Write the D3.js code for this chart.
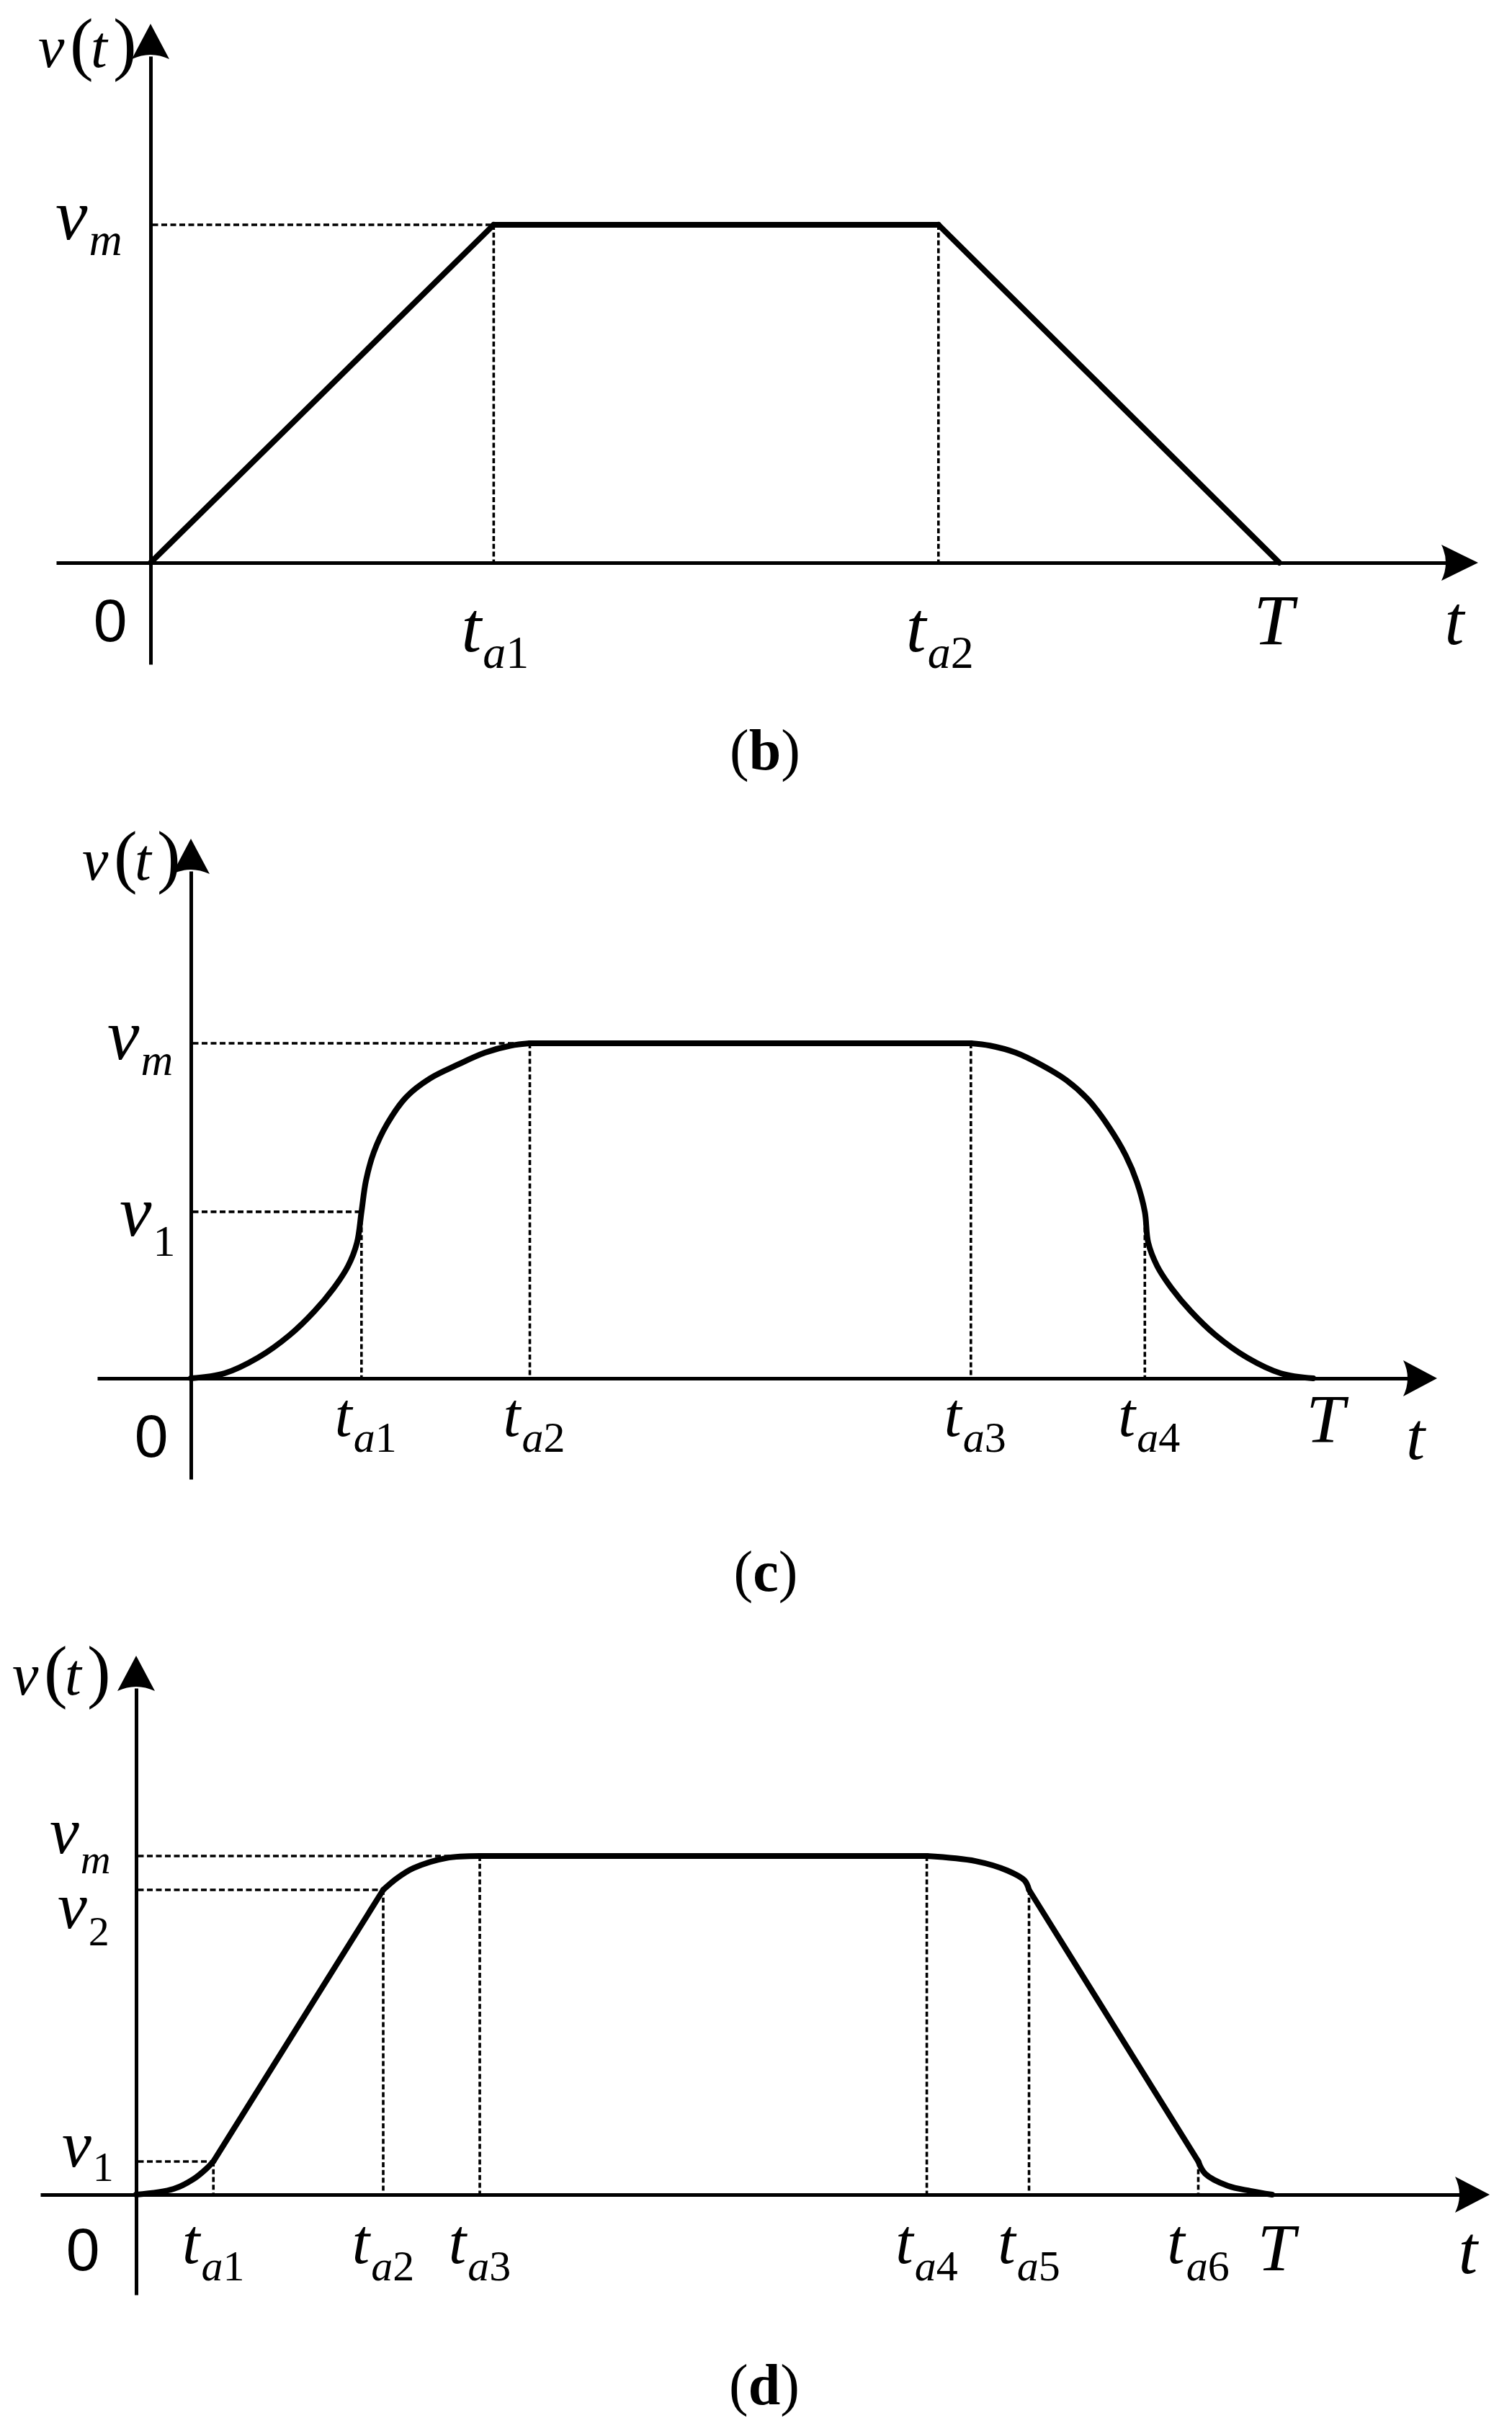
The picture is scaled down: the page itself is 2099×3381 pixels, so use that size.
<!DOCTYPE html>
<html>
<head>
<meta charset="utf-8">
<script src="https://cdn.jsdelivr.net/npm/d3@7"></script>
<style>
  html, body { margin: 0; padding: 0; background: #fff; }
  svg { display: block; }
</style>
</head>
<body>
<div id="chart"></div>
<script>
// ---------------- DATA (time as fraction of T, velocity as fraction of v_m) ----------------
const panelIds = ['b', 'c', 'd'];

// Panel (b): trapezoidal profile
const bTicks = ['a1', 'a2'];
const bTickT = [0.304, 0.698];
const bTickV = [1, 1];
const bLevels = ['m'];
const bLevelV = [1];
const bLevelT = [0.304];
const bCurveT = [0, 0.304, 0.698, 1];
const bCurveV = [0, 1, 1, 0];
const bSegments = [[0, 1, 'linear'], [1, 2, 'linear'], [2, 3, 'linear']];

// Panel (c): S-curve profile
const cTicks = ['a1', 'a2', 'a3', 'a4'];
const cTickT = [0.152, 0.302, 0.695, 0.850];
const cTickV = [0.497, 1, 1, 0.497];
const cLevels = ['m', '1'];
const cLevelV = [1, 0.497];
const cLevelT = [0.302, 0.152];
const cCurveT = [0, 0.030, 0.060, 0.088, 0.110, 0.127, 0.140, 0.148, 0.152,
                 0.156, 0.163, 0.175, 0.192, 0.213, 0.237, 0.262, 0.285, 0.302,
                 0.695, 0.712, 0.735, 0.758, 0.780, 0.800, 0.818, 0.833, 0.843, 0.850,
                 0.853, 0.861, 0.874, 0.891, 0.913, 0.941, 0.971, 1];
const cCurveV = [0, 0.015, 0.062, 0.129, 0.200, 0.268, 0.335, 0.405, 0.497,
                 0.590, 0.675, 0.760, 0.840, 0.895, 0.935, 0.972, 0.993, 1,
                 1, 0.993, 0.972, 0.935, 0.890, 0.830, 0.750, 0.665, 0.585, 0.497,
                 0.405, 0.335, 0.268, 0.200, 0.129, 0.062, 0.015, 0];
const cSegments = [[0, 17, 'smooth'], [17, 18, 'linear'], [18, 35, 'smooth']];

// Panel (d): seven-segment profile
const dTicks = ['a1', 'a2', 'a3', 'a4', 'a5', 'a6'];
const dTickT = [0.068, 0.2175, 0.3025, 0.696, 0.786, 0.935];
const dTickV = [0.098, 0.9, 1, 1, 0.9, 0.098];
const dLevels = ['m', '2', '1'];
const dLevelV = [1, 0.9, 0.098];
const dLevelT = [0.3025, 0.2175, 0.068];
const dCurveT = [0, 0.033, 0.051, 0.062, 0.068, 0.2175, 0.2295, 0.244, 0.273, 0.3025,
                 0.696, 0.739, 0.767, 0.782, 0.786, 0.935, 0.941, 0.961, 0.981, 1];
const dCurveV = [0, 0.017, 0.047, 0.077, 0.098, 0.9, 0.934, 0.964, 0.994, 1,
                 1, 0.985, 0.957, 0.928, 0.9, 0.098, 0.062, 0.026, 0.011, 0];
const dSegments = [[0, 4, 'smooth'], [4, 5, 'linear'], [5, 9, 'smooth'], [9, 10, 'linear'],
                   [10, 14, 'smooth'], [14, 15, 'linear'], [15, 19, 'smooth']];

const axisNames = { y: ['v', '(', 't', ')'], x: 't', end: 'T', origin: '0' };

// ---------------- LAYOUT ----------------
const W = 2099, H = 3381;
const SERIF = '"Liberation Serif", "Times New Roman", serif';
const SANS = '"Liberation Sans", Arial, sans-serif';

const layout = {
  b: { x0: 209, xT: 1776, y0: 781, yM: 312, xFrom: 78, xTip: 2052, yFrom: 922, yTip: 33, arrowX: 51,
       taSize: 100, subSize: 64, taBase: 904, subDy: 23, taDx: 2,
       T: [1768, 894, 100], t: [2019, 894, 97], zero: [153, 890],
       lvl: { m: [77, 332, 22] }, lvlSize: 100, lvlSub: 64,
       vt: [53, 93], cap: [1062, 1068, 'b'] },
  c: { x0: 265, xT: 1823, y0: 1913, yM: 1448, xFrom: 135, xTip: 1995, yFrom: 2053, yTip: 1164, arrowX: 47,
       taSize: 86, subSize: 60, taBase: 1993, subDy: 22, taDx: 6,
       T: [1840, 2002, 96], t: [1965, 2025, 94], zero: [210, 2022],
       lvl: { m: [149, 1470, 22], '1': [166, 1715, 28] }, lvlSize: 100, lvlSub: 62,
       vt: [114, 1221], cap: [1063, 2208, 'c'] },
  d: { x0: 189, xT: 1766, y0: 3046, yM: 2576, xFrom: 56, xTip: 2068, yFrom: 3185, yTip: 2298, arrowX: 48,
       taSize: 88, subSize: 60, taBase: 3141, subDy: 24, taDx: 0,
       T: [1772, 3151, 94], t: [2038, 3155, 95], zero: [115, 3151],
       lvl: { m: [69, 2572, 28], '2': [80, 2676, 24], '1': [86, 3007, 20] }, lvlSize: 92, lvlSub: 58,
       vt: [17, 2352], cap: [1061, 3337, 'd'] }
};

const data = {
  b: { ticks: bTicks, tickT: bTickT, tickV: bTickV, levels: bLevels, levelV: bLevelV, levelT: bLevelT,
       curveT: bCurveT, curveV: bCurveV, segs: bSegments },
  c: { ticks: cTicks, tickT: cTickT, tickV: cTickV, levels: cLevels, levelV: cLevelV, levelT: cLevelT,
       curveT: cCurveT, curveV: cCurveV, segs: cSegments },
  d: { ticks: dTicks, tickT: dTickT, tickV: dTickV, levels: dLevels, levelV: dLevelV, levelT: dLevelT,
       curveT: dCurveT, curveV: dCurveV, segs: dSegments }
};

const svg = d3.select('#chart').append('svg')
  .attr('width', W).attr('height', H).attr('viewBox', `0 0 ${W} ${H}`);
svg.append('rect').attr('width', W).attr('height', H).attr('fill', '#fff');

const AXIS_W = 5, CURVE_W = 8, DASH_W = 3.6, DASH = '8,4.5';

function subText(g, x, y, main, sub, size, subSize, subDy, anchor) {
  const t = g.append('text').attr('x', x).attr('y', y)
    .attr('font-family', SERIF).attr('font-size', size).attr('text-anchor', anchor)
    .attr('fill', '#000');
  t.append('tspan').attr('font-style', 'italic').text(main);
  let first = true;
  for (const ch of sub) {
    const sp = t.append('tspan').attr('font-size', subSize)
      .attr('font-style', /[0-9]/.test(ch) ? 'normal' : 'italic').text(ch);
    if (first) { sp.attr('dy', subDy).attr('dx', 2); first = false; }
  }
  return t;
}

panelIds.forEach(id => {
  const L = layout[id], D = data[id];
  const g = svg.append('g').attr('class', 'panel-' + id);
  const x = d3.scaleLinear().domain([0, 1]).range([L.x0, L.xT]);
  const y = d3.scaleLinear().domain([0, 1]).range([L.y0, L.yM]);

  // axes (lines through d3 axes, no ticks)
  const xa = d3.scaleLinear().domain([x.invert(L.xFrom), x.invert(L.xTip - L.arrowX + 8)])
    .range([L.xFrom, L.xTip - L.arrowX + 8]);
  const ya = d3.scaleLinear().domain([y.invert(L.yFrom), y.invert(L.yTip + 45)])
    .range([L.yFrom, L.yTip + 45]);
  const gx = g.append('g').attr('transform', `translate(0,${y(0)})`)
    .call(d3.axisBottom(xa).tickValues([]).tickSizeOuter(0));
  const gy = g.append('g').attr('transform', `translate(${x(0)},0)`)
    .call(d3.axisLeft(ya).tickValues([]).tickSizeOuter(0));
  [gx, gy].forEach(a => a.select('.domain').attr('stroke', '#000').attr('stroke-width', AXIS_W));

  // arrowheads
  const ax = L.xTip, ay = y(0), len = L.arrowX, hw = 25;
  g.append('path')
    .attr('d', `M${ax},${ay} L${ax - len},${ay - hw} Q${ax - len + 12},${ay} ${ax - len},${ay + hw} Z`)
    .attr('fill', '#000');
  const bx = x(0), by = L.yTip, blen = 49;
  g.append('path')
    .attr('d', `M${bx},${by} L${bx + 26},${by + blen} Q${bx},${by + blen - 12} ${bx - 26},${by + blen} Z`)
    .attr('fill', '#000');

  // dashed guide lines
  D.levels.forEach((lv, i) => {
    g.append('line')
      .attr('x1', x(0) + AXIS_W / 2).attr('x2', x(D.levelT[i]))
      .attr('y1', y(D.levelV[i])).attr('y2', y(D.levelV[i]))
      .attr('stroke', '#000').attr('stroke-width', DASH_W).attr('stroke-dasharray', DASH);
  });
  D.ticks.forEach((tk, i) => {
    g.append('line')
      .attr('x1', x(D.tickT[i])).attr('x2', x(D.tickT[i]))
      .attr('y1', y(D.tickV[i])).attr('y2', y(0))
      .attr('stroke', '#000').attr('stroke-width', DASH_W).attr('stroke-dasharray', '7,3.8');
  });

  // curve
  const pts = D.curveT.map((t, i) => [t, D.curveV[i]]);
  D.segs.forEach(([s, e, kind]) => {
    const line = d3.line().x(d => x(d[0])).y(d => y(d[1]))
      .curve(kind === 'smooth' ? d3.curveCatmullRom.alpha(0.5) : d3.curveLinear);
    g.append('path').attr('d', line(pts.slice(s, e + 1)))
      .attr('fill', 'none').attr('stroke', '#000').attr('stroke-width', CURVE_W)
      .attr('stroke-linecap', 'round').attr('stroke-linejoin', 'round');
  });

  // tick labels t_ai
  D.ticks.forEach((tk, i) => {
    subText(g, x(D.tickT[i]) + L.taDx, L.taBase, 't', tk, L.taSize, L.subSize, L.subDy, 'middle');
  });

  // level labels v_m, v_1, v_2
  D.levels.forEach(lv => {
    const p = L.lvl[lv];
    subText(g, p[0], p[1], 'v', lv, L.lvlSize, L.lvlSub, p[2], 'start');
  });

  // T, t, 0
  g.append('text').attr('x', L.T[0]).attr('y', L.T[1]).attr('font-size', L.T[2])
    .attr('font-family', SERIF).attr('font-style', 'italic').attr('text-anchor', 'middle').text(axisNames.end);
  g.append('text').attr('x', L.t[0]).attr('y', L.t[1]).attr('font-size', L.t[2])
    .attr('font-family', SERIF).attr('font-style', 'italic').attr('text-anchor', 'middle').text(axisNames.x);
  g.append('text').attr('x', L.zero[0]).attr('y', L.zero[1]).attr('font-size', 84)
    .attr('font-family', SANS).attr('text-anchor', 'middle').text(axisNames.origin);

  // v(t) label
  const vt = g.append('text').attr('y', L.vt[1]).attr('font-family', SERIF).attr('fill', '#000');
  const offs = [0, 44, 73, 104];
  axisNames.y.forEach((ch, k) => {
    const paren = ch === '(' || ch === ')';
    vt.append('tspan').attr('x', L.vt[0] + offs[k])
      .attr('font-size', paren ? 98 : 82)
      .attr('font-style', paren ? 'normal' : 'italic').text(ch);
  });

  // caption
  const cap = g.append('text').attr('x', L.cap[0]).attr('y', L.cap[1]).attr('font-size', 80)
    .attr('font-family', SERIF).attr('text-anchor', 'middle');
  cap.append('tspan').text('(');
  cap.append('tspan').attr('font-weight', 'bold').text(L.cap[2]);
  cap.append('tspan').text(')');
});
</script>
</body>
</html>
